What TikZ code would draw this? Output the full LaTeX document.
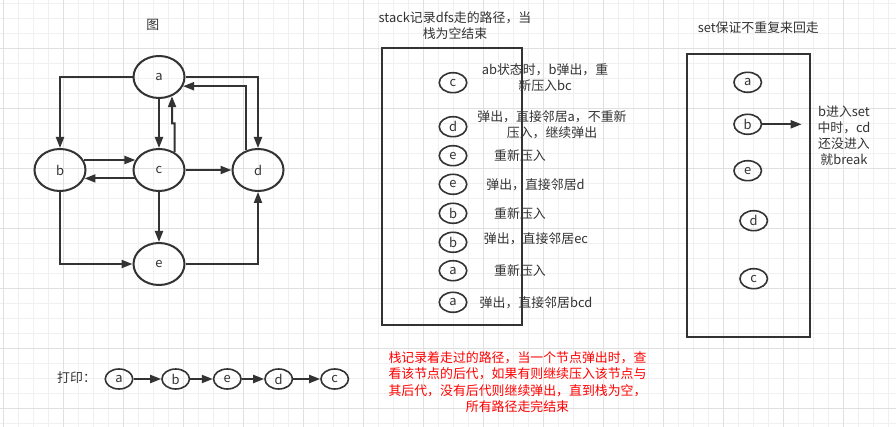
\documentclass[tikz,border=0pt]{standalone}
\usepackage{fontspec}
\setmainfont{Noto Sans CJK SC}
\usetikzlibrary{shapes.geometric,arrows.meta}

\definecolor{ink}{HTML}{333333}
\definecolor{gridminor}{HTML}{F0F0F0}
\definecolor{gridmajor}{HTML}{E0E0E0}

\tikzset{
  gnode/.style={ellipse, draw=ink, line width=2pt, minimum width=51pt,
                minimum height=42pt, inner sep=0pt, text=ink},
  snode/.style={ellipse, draw=ink, line width=1.6pt, minimum width=27.5pt,
                minimum height=20pt, inner sep=0pt, text=ink},
  edge/.style={draw=ink, line width=2pt, -{Triangle[length=11pt,width=8pt]}},
  box/.style={draw=ink, line width=2pt},
  lbl/.style={align=center, text=ink, inner sep=0pt},
}

\begin{document}
\begin{tikzpicture}[x=1pt, y=-1pt,
    every node/.style={font=\fontsize{12.9}{15.6}\selectfont}]

\useasboundingbox (0,0) rectangle (896,427);
\fill[white] (0,0) rectangle (896,427);

%% === griglia di sfondo ===
\foreach \gx in {3.3,18.3,...,896} \draw[gridminor, line width=1pt] (\gx,0)--(\gx,427);
\foreach \gy in {3.3,18.3,...,427} \draw[gridminor, line width=1pt] (0,\gy)--(896,\gy);
\foreach \gx in {3.3,63.3,...,896} \draw[gridmajor, line width=1pt] (\gx,0)--(\gx,427);
\foreach \gy in {48.3,108.3,...,427} \draw[gridmajor, line width=1pt] (0,\gy)--(896,\gy);

%% === grafo ===
\node[lbl] (gtitle) at (152.7,25) {图};

\node[gnode] (a) at (159,77)  {a};
\node[gnode] (b) at (60,170)  {b};
\node[gnode] (c) at (159,170) {c};
\node[gnode] (d) at (258,170) {d};
\node[gnode] (e) at (159,264) {e};

\draw[edge] (a.west) -| (b.north);
\draw[edge] (a.east) -| (d.north);
\draw[edge] (d.122) |- (a.-21);
\draw[edge] (a.south) -- (c.north);
\coordinate (cajog) at (174.3,123.3);
\draw[edge] (c.49) -- (c.49 |- cajog) -- ++(-2.3,0) -- (a.-56);
\draw[edge] (b.23) -- (c.157);
\draw[edge] (c.-161) -- (b.-19);
\draw[edge] (c.east) -- (d.west);
\draw[edge] (c.south) -- (e.north);
\draw[edge] (b.south) |- (e.west);
\draw[edge] (e.east) -| (d.south);

%% === stack ===
\node[lbl] (stitle) at (455,25.5) {stack记录dfs走的路径，当\\栈为空结束};
\draw[box] (382.3,48) rectangle (522.3,325);

\foreach \n/\y [count=\i] in {c/82.7, d/126.7, e/155.7, e/184.3,
                              b/213.3, b/242.3, a/270.7, a/302.3}
    \node[snode] (s\i) at (453,\y) {\n};

\node[lbl] (sl1) at (545,77.5)  {ab状态时，b弹出，重\\新压入bc};
\node[lbl] (sl2) at (552,124.5) {弹出，直接邻居a，不重新\\压入，继续弹出};
\node[lbl] (sl3) at (520,156)   {重新压入};
\node[lbl] (sl4) at (535.5,184.3) {弹出，直接邻居d};
\node[lbl] (sl5) at (520,213.3) {重新压入};
\node[lbl] (sl6) at (536,239)   {弹出，直接邻居ec};
\node[lbl] (sl7) at (520,270.7) {重新压入};
\node[lbl] (sl8) at (536,302.3) {弹出，直接邻居bcd};

%% === set ===
\node[lbl] (ttitle) at (758.3,27.7) {set保证不重复来回走};
\draw[box] (686.7,54.3) rectangle (810,336.7);

\foreach \n/\x/\y [count=\i] in {a/747.7/82.3, b/747.7/124.3, e/747.7/170.7,
                                 d/753.7/220.7, c/753.7/278.7}
    \node[snode] (t\i) at (\x,\y) {\n};

\coordinate (ttip) at (801.7,124.3);
\draw[edge] (t2.east) -- (ttip);
\node[lbl, font=\fontsize{12.9}{15.9}\selectfont] (tnote) at (844,135.6)
    {b进入set\\中时，cd\\还没进入\\就break};

%% === stampa ===
\node[lbl, anchor=west] (ptitle) at (57,377.3) {打印：};
\foreach \n/\x [count=\i] in {a/119, b/175.7, e/227.3, d/278.7, c/334.7}
    \node[snode] (p\i) at (\x,379) {\n};
\foreach \i/\j in {1/2,2/3,3/4,4/5}
    \draw[edge] (p\i.east) -- (p\j.west);

%% === nota in rosso ===
\node[lbl, text=red, font=\fontsize{12.9}{16.5}\selectfont] (note) at (517.5,382)
    {栈记录着走过的路径，当一个节点弹出时，查\\看该节点的后代，如果有则继续压入该节点与\\其后代，没有后代则继续弹出，直到栈为空，\\所有路径走完结束};

\end{tikzpicture}
\end{document}
